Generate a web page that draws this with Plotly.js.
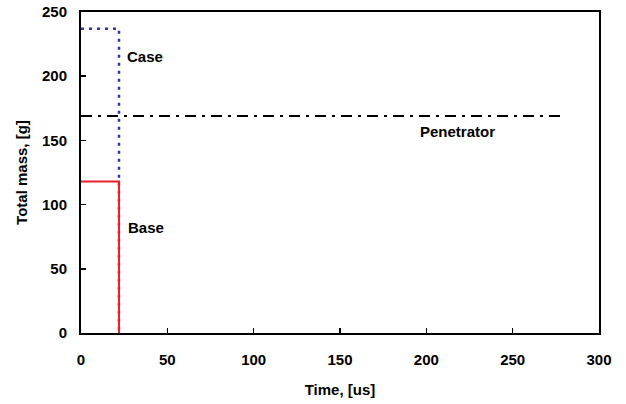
<!DOCTYPE html>
<html><head><meta charset="utf-8">
<script src="https://cdn.plot.ly/plotly-3.0.1.min.js"></script>
<style>html,body{margin:0;padding:0;background:#fff}</style>
</head><body><div id="chart" style="width:626px;height:404px"></div>
<script>
const caseTime = [0, 22, 22];
const caseMass = [237, 237, 0];
const baseTime = [0, 22, 22];
const baseMass = [118, 118, 0];
const penTime = [0, 280];
const penMass = [169, 169];
const xTicks = [0, 50, 100, 150, 200, 250, 300];
const yTicks = [0, 50, 100, 150, 200, 250];

const font = {family: 'Liberation Sans, Arial, sans-serif', size: 15, color: '#000', weight: 'bold'};

const traces = [
  {x: caseTime, y: caseMass, mode: 'lines', line: {color: '#3333aa', width: 2.5, dash: '3px,5px'}, name: 'Case'},
  {x: penTime, y: penMass, mode: 'lines', line: {color: '#000', width: 2, dash: '11px,6px,3px,6px'}, name: 'Penetrator'},
  {x: baseTime, y: baseMass, mode: 'lines', line: {color: '#e8202a', width: 2}, name: 'Base'}
];

const axisCommon = {
  showline: true, linecolor: '#000', linewidth: 2, mirror: true,
  ticks: 'inside', ticklen: 5, tickwidth: 1.5, tickcolor: '#000',
  showgrid: false, zeroline: false, tickfont: font
};

const layout = {
  width: 626, height: 404,
  margin: {l: 81, r: 27, t: 12, b: 71},
  paper_bgcolor: '#fff', plot_bgcolor: '#fff',
  showlegend: false,
  xaxis: Object.assign({}, axisCommon, {range: [0, 300], tickvals: xTicks, ticklabelstandoff: 12,
    title: {text: 'Time, [us]', font: font, standoff: 17}}),
  yaxis: Object.assign({}, axisCommon, {range: [0, 250], tickvals: yTicks, ticklabelstandoff: 9,
    title: {text: 'Total mass, [g]', font: font, standoff: 11}}),
  annotations: [
    {x: 37, y: 215, text: 'Case', showarrow: false, font: font},
    {x: 37.5, y: 82, text: 'Base', showarrow: false, font: font},
    {x: 218, y: 157, text: 'Penetrator', showarrow: false, font: font}
  ]
};

Plotly.newPlot('chart', traces, layout, {displayModeBar: false, staticPlot: true});
</script></body></html>
